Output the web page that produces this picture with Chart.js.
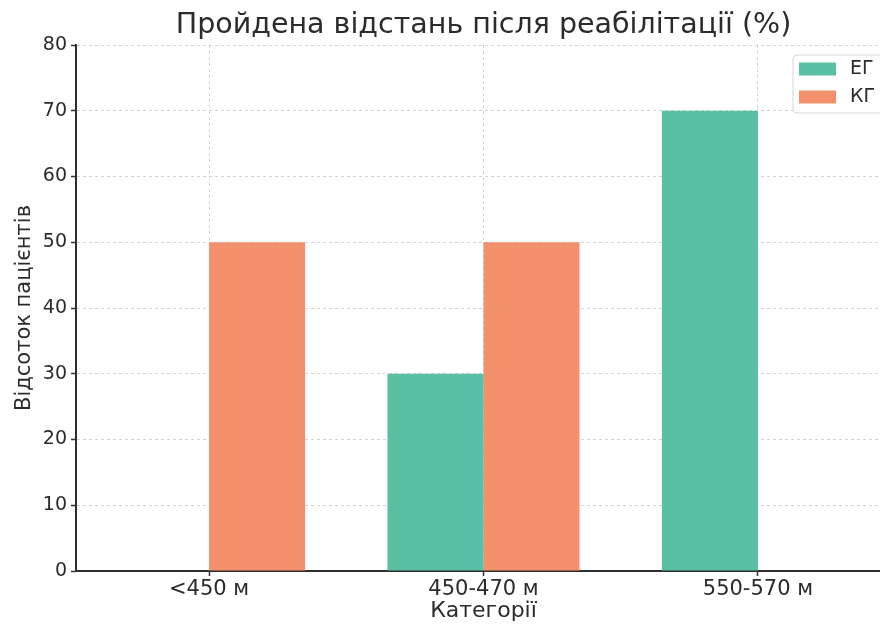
<!DOCTYPE html>
<html>
<head>
<meta charset="utf-8">
<script src="https://cdn.jsdelivr.net/npm/chart.js@4/dist/chart.umd.min.js"></script>
<style>
  html, body { margin: 0; padding: 0; background: #fff; }
  #wrap { width: 880px; height: 626px; overflow: hidden; }
</style>
</head>
<body>
<div id="wrap"><canvas id="chart" width="891" height="626"></canvas></div>
<script>
// Data
const categories = ['<450 м', '450-470 м', '550-570 м'];
const seriesNames = ['ЕГ', 'КГ'];
const egValues = [0, 30, 70];
const kgValues = [50, 50, 0];
const seriesColors = ['#5ac0a4', '#f3906c'];

const FONT = "'DejaVu Sans', sans-serif";
const TEXT = '#2b2b2b';

const toPoints = (vals) => vals.map((v, i) => ({ x: i, y: v }));

// matplotlib-like boxed legend inside the plot, top right
const boxLegend = {
    id: 'boxLegend',
    afterDraw(chart) {
        const { ctx, chartArea } = chart;
        const left = chartArea.right - 98;
        const top = chartArea.top + 10;
        ctx.save();
        ctx.beginPath();
        ctx.roundRect(left, top, 91, 58, 4);
        ctx.fillStyle = 'rgba(255,255,255,0.85)';
        ctx.fill();
        ctx.strokeStyle = '#d6d6d6';
        ctx.lineWidth = 1;
        ctx.stroke();
        ctx.font = `19px ${FONT}`;
        ctx.textBaseline = 'middle';
        chart.data.datasets.forEach((ds, i) => {
            const cy = top + 14 + i * 28;
            ctx.fillStyle = ds.backgroundColor;
            ctx.fillRect(left + 6, cy - 6.5, 37, 13);
            ctx.fillStyle = TEXT;
            ctx.fillText(ds.label, left + 57, cy);
        });
        ctx.restore();
    }
};

new Chart(document.getElementById('chart'), {
    type: 'bar',
    data: {
        datasets: [
            { label: seriesNames[0], data: toPoints(egValues), backgroundColor: seriesColors[0] },
            { label: seriesNames[1], data: toPoints(kgValues), backgroundColor: seriesColors[1] }
        ]
    },
    options: {
        responsive: false,
        animation: false,
        devicePixelRatio: 1,
        categoryPercentage: 0.7,
        barPercentage: 1.0,
        borderWidth: 0,
        layout: { padding: 0 },
        plugins: {
            legend: { display: false },
            tooltip: { enabled: false },
            title: {
                display: true,
                text: 'Пройдена відстань після реабілітації (%)',
                fullSize: false,
                color: TEXT,
                font: { family: FONT, size: 28.5, weight: 'normal' },
                padding: { top: 8.5, bottom: 2.3 }
            }
        },
        scales: {
            x: {
                type: 'linear',
                min: -0.485,
                max: 2.485,
                offset: false,
                afterFit: (s) => { s.height = 55; },
                ticks: {
                    stepSize: 1,
                    includeBounds: false,
                    color: TEXT,
                    padding: 1,
                    font: { family: FONT, size: 21 },
                    callback: (v) => categories[v] ?? ''
                },
                grid: { offset: false, color: 'rgba(0,0,0,0.17)', lineWidth: 1, tickLength: 5, tickColor: '#333', tickWidth: 1.5 },
                border: { color: '#2e2e2e', width: 2, dash: [3, 3] },
                title: {
                    display: true,
                    text: 'Категорії',
                    color: TEXT,
                    font: { family: FONT, size: 22 },
                    padding: { top: 0, bottom: 2 }
                }
            },
            y: {
                min: 0,
                max: 80,
                afterFit: (s) => { s.width = 76; },
                ticks: {
                    stepSize: 10,
                    color: TEXT,
                    padding: 4,
                    font: { family: FONT, size: 19 }
                },
                grid: { color: 'rgba(0,0,0,0.17)', lineWidth: 1, tickLength: 5, tickColor: '#333', tickWidth: 1.5 },
                border: { color: '#2e2e2e', width: 2, dash: [3, 3] },
                title: {
                    display: true,
                    text: 'Відсоток пацієнтів',
                    color: TEXT,
                    font: { family: FONT, size: 21 },
                    padding: { top: 12, bottom: 0 }
                }
            }
        }
    },
    plugins: [boxLegend]
});
</script>
</body>
</html>
